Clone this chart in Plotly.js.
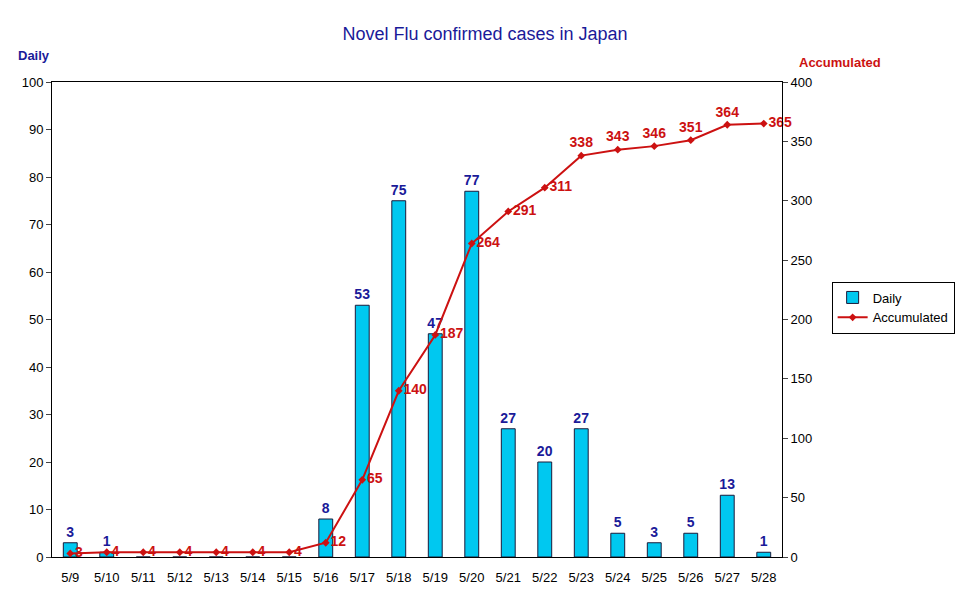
<!DOCTYPE html>
<html>
<head>
<meta charset="utf-8">
<script src="https://cdn.plot.ly/plotly-3.0.1.min.js"></script>
<style>body{margin:0;background:#fff}#chart{width:970px;height:604px}</style>
</head>
<body>
<div id="chart"></div>
<script>
// dates and counts
var dates = ['5/9','5/10','5/11','5/12','5/13','5/14','5/15','5/16','5/17','5/18','5/19','5/20','5/21','5/22','5/23','5/24','5/25','5/26','5/27','5/28'];
var daily = [3, 1, 0, 0, 0, 0, 0, 8, 53, 75, 47, 77, 27, 20, 27, 5, 3, 5, 13, 1];
var accumulated = [3, 4, 4, 4, 4, 4, 4, 12, 65, 140, 187, 264, 291, 311, 338, 343, 346, 351, 364, 365];

var dailyText = daily.map(function (v) { return v > 0 ? String(v) : ''; });
// labels near the flat top of the curve sit above their points
var accPos = dates.map(function (d, i) { return (i >= 14 && i <= 18) ? 'top center' : 'middle right'; });
var font = 'Liberation Sans, Arial, sans-serif';

var bars = {
    x: dates, y: daily, name: 'Daily', type: 'bar', width: 0.38,
    marker: { color: '#00c8f0', line: { color: '#1a1a3a', width: 1 } },
    text: dailyText, textposition: 'outside', cliponaxis: false, constraintext: 'none',
    textfont: { color: '#1a1a99', size: 14, family: font, weight: 'bold' }
};

var line = {
    x: dates, y: accumulated, name: 'Accumulated', yaxis: 'y2', type: 'scatter',
    mode: 'lines+markers+text',
    line: { color: '#cc1111', width: 2 },
    marker: { color: '#cc1111', size: 6, symbol: 'diamond' },
    text: accumulated.map(String), textposition: accPos, cliponaxis: false,
    textfont: { color: '#cc1111', size: 14, family: font, weight: 'bold' }
};

var layout = {
    width: 970, height: 604,
    margin: { l: 52, r: 188, t: 82, b: 47 },
    paper_bgcolor: '#fff', plot_bgcolor: '#fff',
    font: { family: font, size: 13, color: '#000' },
    title: { text: 'Novel Flu confirmed cases in Japan', x: 0.5, xanchor: 'center', xref: 'container', y: 0.955,
             font: { size: 18, color: '#1a1a99' } },
    showlegend: true,
    legend: { x: 1.068, y: 0.58, xanchor: 'left', yanchor: 'top', bordercolor: '#000', borderwidth: 1,
              font: { size: 13 }, tracegroupgap: 0 },
    xaxis: { type: 'category', range: [-0.5, 19.5], showline: true, linecolor: '#000', mirror: true, ticks: '',
             tickfont: { size: 13 }, ticklabelstandoff: 8 },
    yaxis: { range: [0, 100], dtick: 10, showgrid: false, showline: true, linecolor: '#000',
             ticks: 'outside', ticklen: 5, tickfont: { size: 13 } },
    yaxis2: { range: [0, 400], dtick: 50, overlaying: 'y', side: 'right', showgrid: false,
              showline: true, linecolor: '#000', ticks: 'outside', ticklen: 5, tickfont: { size: 13 } },
    annotations: [
        { text: '<b>Daily</b>', xref: 'paper', yref: 'paper', x: -0.05, y: 1.075, xanchor: 'left', showarrow: false,
          font: { color: '#1a1a99', size: 13 } },
        { text: '<b>Accumulated</b>', xref: 'paper', yref: 'paper', x: 1.08, y: 1.06, xanchor: 'center', showarrow: false,
          font: { color: '#cc1111', size: 13 } }
    ]
};

Plotly.newPlot('chart', [bars, line], layout, { displayModeBar: false });
</script>
</body>
</html>
